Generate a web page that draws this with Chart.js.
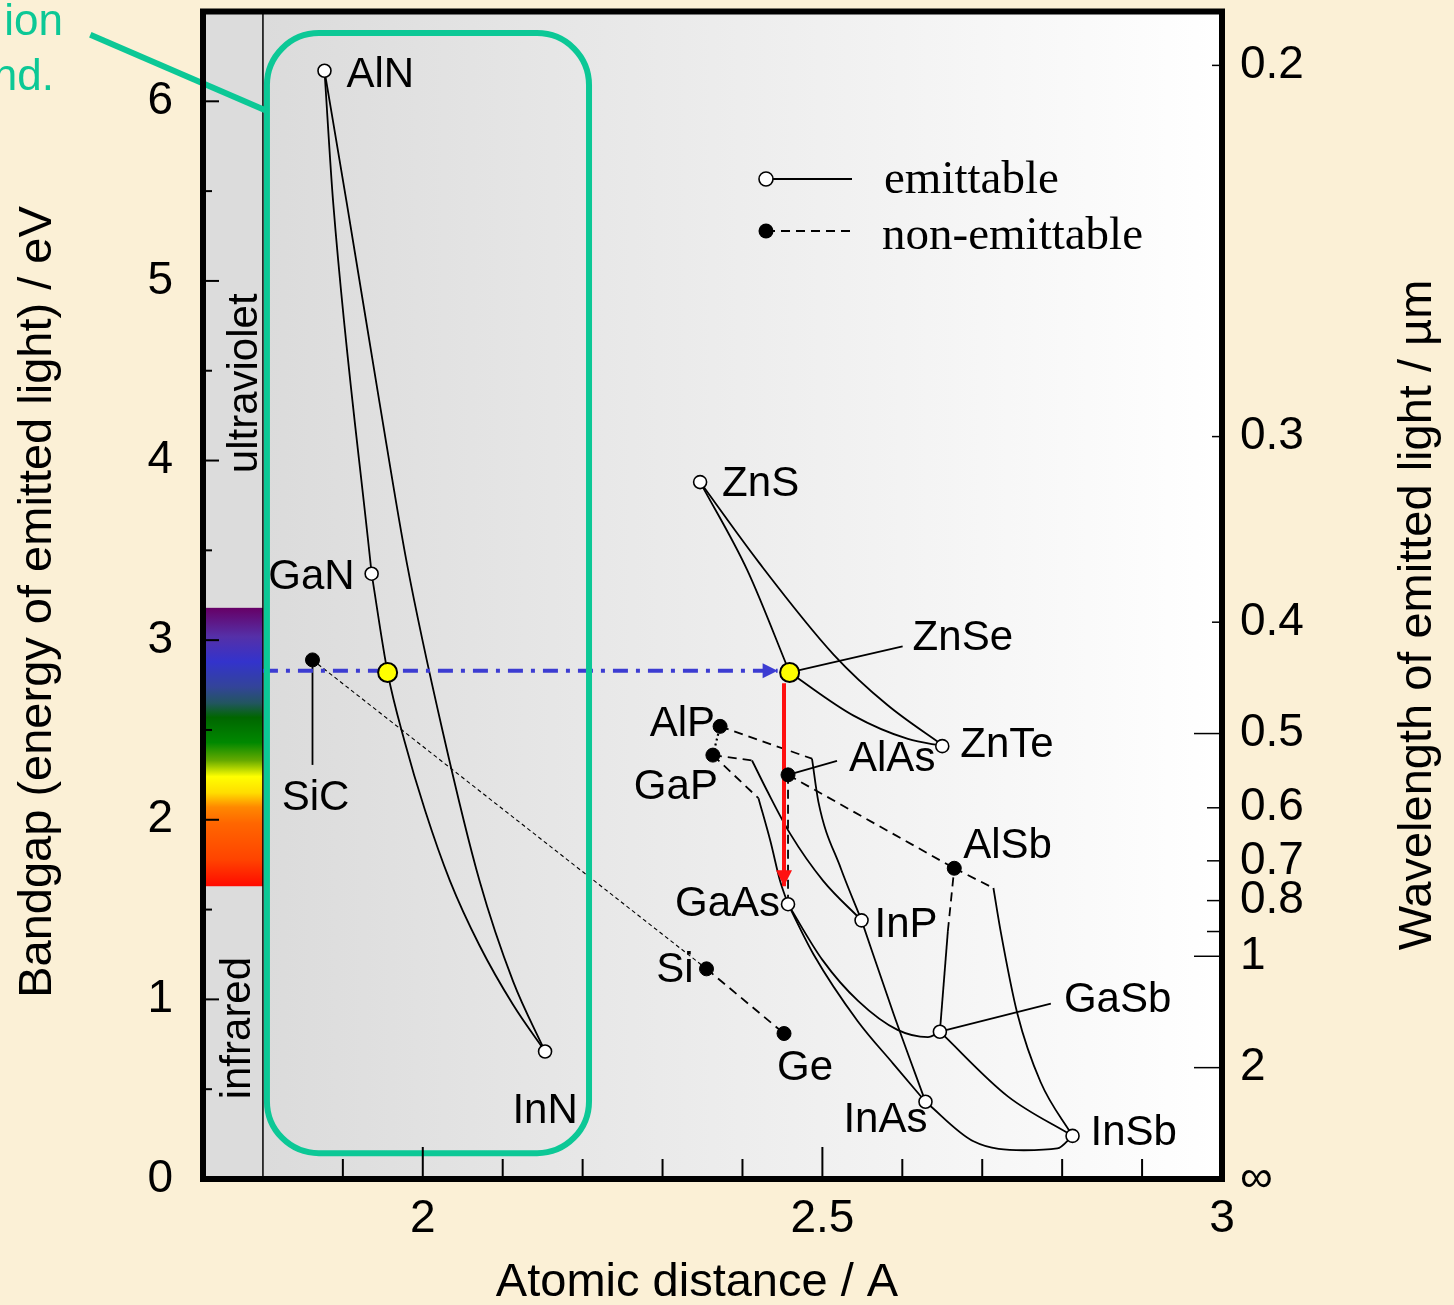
<!DOCTYPE html>
<html>
<head>
<meta charset="utf-8">
<title>Bandgap vs atomic distance</title>
<script src="https://cdn.jsdelivr.net/npm/chart.js@4/dist/chart.umd.min.js"></script>
<style>
  html, body { margin: 0; padding: 0; background: #fbf0d6; }
  canvas { display: block; }
</style>
</head>
<body>
<canvas id="gapChart" width="1454" height="1305"></canvas>
<script>
// compounds that emit light (open circles)
const emitNames = ['AlN', 'GaN', 'InN', 'ZnS', 'ZnTe', 'GaAs', 'InP', 'GaSb', 'InAs', 'InSb'];
const emitDist  = [1.877, 1.936, 2.153, 2.347, 2.650, 2.457, 2.549, 2.647, 2.629, 2.813];
const emitGap   = [6.17, 3.37, 0.71, 3.88, 2.41, 1.53, 1.44, 0.82, 0.43, 0.24];

// non-emitting (filled circles)
const darkNames = ['SiC', 'AlP', 'GaP', 'AlAs', 'AlSb', 'Si', 'Ge'];
const darkDist  = [1.862, 2.372, 2.363, 2.457, 2.665, 2.355, 2.452];
const darkGap   = [2.89, 2.52, 2.36, 2.25, 1.73, 1.17, 0.81];

// blue emitters (yellow circles)
const blueNames = ['GaInN', 'ZnSe'];
const blueDist  = [1.956, 2.459];
const blueGap   = [2.82, 2.82];

// alloy curves [distance, gap]
const cAlNGaN   = [[1.877, 6.17], [1.888, 5.43], [1.936, 3.37]];
const cAlNInN   = [[1.877, 6.17], [1.905, 5.43], [1.946, 4.32], [1.980, 3.43], [2.025, 2.49], [2.071, 1.66], [2.113, 1.10], [2.153, 0.71]];
const cGaNInN   = [[1.936, 3.37], [1.956, 2.82], [1.977, 2.44], [2.003, 2.05], [2.034, 1.66], [2.071, 1.30], [2.113, 0.97], [2.153, 0.71]];
const cZnSZnSe  = [[2.347, 3.88], [2.406, 3.39], [2.459, 2.82]];
const cZnSZnTe  = [[2.347, 3.88], [2.421, 3.43], [2.514, 2.92], [2.581, 2.64], [2.652, 2.41]];
const cZnSeZnTe = [[2.459, 2.82], [2.539, 2.58], [2.607, 2.45], [2.652, 2.41]];
const dGaPAlP   = [[2.363, 2.36], [2.372, 2.52]];
const dAlPInP   = [[2.372, 2.52], [2.487, 2.34]];
const cAlPInP   = [[2.487, 2.34], [2.495, 2.10], [2.523, 1.73], [2.549, 1.44]];
const dGaPInP   = [[2.363, 2.36], [2.412, 2.33]];
const cGaPInP   = [[2.412, 2.33], [2.431, 2.16], [2.460, 1.92], [2.501, 1.66], [2.549, 1.44]];
const dGaPGaAs  = [[2.363, 2.36], [2.420, 2.12]];
const cGaPGaAs  = [[2.420, 2.12], [2.435, 1.88], [2.447, 1.66], [2.457, 1.53]];
const dAlAsGaAs = [[2.457, 2.25], [2.457, 1.53]];
const dAlAsAlSb = [[2.457, 2.25], [2.665, 1.73]];
const dAlSbInSb = [[2.665, 1.73], [2.714, 1.62]];
const cAlSbInSb = [[2.714, 1.62], [2.723, 1.38], [2.744, 0.92], [2.773, 0.54], [2.813, 0.24]];
const dAlSbGaSb = [[2.657, 1.38], [2.665, 1.73]];
const cAlSbGaSb = [[2.647, 0.82], [2.657, 1.38]];
const cGaAsGaSb = [[2.457, 1.53], [2.500, 1.22], [2.545, 0.99], [2.594, 0.83], [2.632, 0.79], [2.647, 0.82]];
const cGaAsInAs = [[2.457, 1.53], [2.489, 1.25], [2.544, 0.88], [2.589, 0.64], [2.629, 0.43]];
const cInPInAs  = [[2.549, 1.44], [2.589, 0.92], [2.629, 0.43]];
const cGaSbInSb = [[2.647, 0.82], [2.732, 0.46], [2.813, 0.24]];
const cInAsInSb = [[2.629, 0.43], [2.689, 0.21], [2.752, 0.16], [2.794, 0.17], [2.813, 0.24]];
const fSiCSi    = [[1.862, 2.89], [2.355, 1.17]];
const dSiGe     = [[2.355, 1.17], [2.452, 0.81]];

// arrows
const blueArrow = [[1.8, 2.83], [2.444, 2.83]];
const redArrow  = [[2.452, 2.76], [2.452, 1.63]];

// axes
const xTickValues = [1.8, 1.9, 2.0, 2.1, 2.2, 2.3, 2.4, 2.5, 2.6, 2.7, 2.8, 2.9, 3.0];
const xTickLabels = ['', '', '2', '', '', '', '', '2.5', '', '', '', '', '3'];
const yTickValues = [0, 0.5, 1, 1.5, 2, 2.5, 3, 3.5, 4, 4.5, 5, 5.5, 6];
const yTickLabels = ['0', '', '1', '', '2', '', '3', '', '4', '', '5', '', '6'];
const waveValues  = [0.2, 0.3, 0.4, 0.5, 0.6, 0.7, 0.8, 0.9, 1, 2, Infinity];
const waveLabels  = ['0.2', '0.3', '0.4', '0.5', '0.6', '0.7', '0.8', '', '1', '2', '\u221e'];
const hc = 1.24; // eV * um

// annotation regions (data space)
const stripEdge = 1.8;
const spectrumTop = 3.18, spectrumBottom = 1.63;
const boxLeft = 1.805, boxRight = 2.208, boxTop = 6.38, boxBottom = 0.144;
const calloutFrom = [1.584, 6.37], calloutTo = [1.803, 5.95];

// ---- styles ----
const SANS = '"Liberation Sans", Arial, sans-serif';
const SERIF = '"Liberation Serif", "Times New Roman", serif';
const GREEN = '#0cc896';
const BLUE = '#3c3cd2';
const RED = '#ff1010';

const spectrumStops = [
  [3.18, '#660066'], [3.02, '#5530a8'], [2.88, '#3333cc'], [2.74, '#334499'],
  [2.65, '#225560'], [2.57, '#006600'], [2.43, '#008800'], [2.33, '#66aa00'],
  [2.24, '#ffff00'], [2.15, '#ffdd00'], [2.07, '#ff8800'], [1.98, '#ff6600'],
  [1.78, '#ff4400'], [1.63, '#ff0a00']
];

const lineStyles = {
  solid:  { borderWidth: 1.8, borderDash: [] },
  dashed: { borderWidth: 1.8, borderDash: [9, 6] },
  dotted: { borderWidth: 2.2, borderDash: [2, 3] },
  fine:   { borderWidth: 1.1, borderDash: [4, 3] }
};

// label offsets in px from the marker: [dx, dy, align]
const labelOffsets = {
  AlN: [22, 5, 'left'], GaN: [-17, 4, 'right'], InN: [0, 60, 'center'], ZnS: [22, 2, 'left'],
  ZnSe: [123, -34, 'left'], ZnTe: [18, -1, 'left'], AlP: [-5, -2, 'right'], GaP: [5, 32, 'right'],
  AlAs: [61, -15, 'left'], AlSb: [9, -22, 'left'], GaAs: [-8, 0, 'right'], InP: [13, 5, 'left'],
  GaSb: [124, -31, 'left'], InAs: [2, 19, 'right'], InSb: [18, -2, 'left'],
  SiC: [3, 139, 'center'], Si: [-13, 2, 'right'], Ge: [21, 35, 'center']
};
const pointerLines = { SiC: [0, 7, 0, 105], ZnSe: [0, 0, 113, -26], AlAs: [0, 0, 49, -14], GaSb: [0, 0, 111, -28] };

const pairs = arr => arr.map(p => ({ x: p[0], y: p[1] }));
const zip = (xs, ys) => xs.map((v, i) => ({ x: v, y: ys[i] }));

const curveList = [
  [cAlNGaN, 'solid'], [cAlNInN, 'solid'], [cGaNInN, 'solid'],
  [cZnSZnSe, 'solid'], [cZnSZnTe, 'solid'], [cZnSeZnTe, 'solid'],
  [dGaPAlP, 'dotted'], [dAlPInP, 'dashed'], [cAlPInP, 'solid'],
  [dGaPInP, 'dashed'], [cGaPInP, 'solid'], [dGaPGaAs, 'dashed'], [cGaPGaAs, 'solid'],
  [dAlAsGaAs, 'dashed'], [dAlAsAlSb, 'dashed'], [dAlSbInSb, 'dashed'], [cAlSbInSb, 'solid'],
  [dAlSbGaSb, 'dashed'], [cAlSbGaSb, 'solid'], [cGaAsGaSb, 'solid'], [cGaAsInAs, 'solid'],
  [cInPInAs, 'solid'], [cGaSbInSb, 'solid'], [cInAsInSb, 'solid'],
  [fSiCSi, 'fine'], [dSiGe, 'dashed']
];

const datasets = [
  { label: 'blue', data: zip(blueDist, blueGap), showLine: false, pointRadius: 9.5,
    pointBackgroundColor: '#ffff00', pointBorderColor: '#000', pointBorderWidth: 2, order: 0 },
  { label: 'emittable', data: zip(emitDist, emitGap), showLine: false, pointRadius: 6.5,
    pointBackgroundColor: '#ffffff', pointBorderColor: '#000', pointBorderWidth: 1.6, order: 0 },
  { label: 'non-emittable', data: zip(darkDist, darkGap), showLine: false, pointRadius: 7,
    pointBackgroundColor: '#000', pointBorderColor: '#000', pointBorderWidth: 1, order: 0 },
  { label: 'arrow-blue', data: pairs(blueArrow), showLine: true, pointRadius: 0, borderColor: BLUE,
    borderWidth: 4, borderDash: [15, 8, 4, 8], tension: 0, order: 1 },
  { label: 'arrow-red', data: pairs(redArrow), showLine: true, pointRadius: 0, borderColor: RED,
    borderWidth: 4, tension: 0, order: 1 }
];
curveList.forEach(([arr, style], i) => {
  datasets.push(Object.assign({
    label: 'curve' + i, data: pairs(arr), showLine: true, pointRadius: 0, borderColor: '#000',
    tension: 0, cubicInterpolationMode: arr.length > 2 ? 'monotone' : 'default', order: 2
  }, lineStyles[style]));
});

function arrowHead(ctx, tipX, tipY, dirX, dirY, len, half, color) {
  ctx.fillStyle = color;
  ctx.beginPath();
  ctx.moveTo(tipX, tipY);
  ctx.lineTo(tipX - dirX * len - dirY * half, tipY - dirY * len + dirX * half);
  ctx.lineTo(tipX - dirX * len + dirY * half, tipY - dirY * len - dirX * half);
  ctx.closePath();
  ctx.fill();
}

// fixed axis boxes so the plot frame lands where the original has it
function fixBox(prop, size) {
  return s => {
    s[prop] = size;
    s.paddingTop = 0; s.paddingBottom = 0; s.paddingLeft = 0; s.paddingRight = 0;
  };
}

const decor = {
  id: 'decor',
  beforeDraw(chart) {
    const { ctx, chartArea: a, scales: { x, y } } = chart;
    ctx.save();
    ctx.fillStyle = '#fbf0d6';
    ctx.fillRect(0, 0, chart.width, chart.height);
    const g = ctx.createLinearGradient(a.left, 0, a.right, 0);
    g.addColorStop(0, '#d9d9d9');
    g.addColorStop(1, '#ffffff');
    ctx.fillStyle = g;
    ctx.fillRect(a.left, a.top, a.right - a.left, a.bottom - a.top);
    const sx = x.getPixelForValue(stripEdge);
    ctx.fillStyle = '#dcdcdc';
    ctx.fillRect(a.left, a.top, sx - a.left, a.bottom - a.top);
    const yt = y.getPixelForValue(spectrumTop), yb = y.getPixelForValue(spectrumBottom);
    const sg = ctx.createLinearGradient(0, yt, 0, yb);
    spectrumStops.forEach(([e, c]) => sg.addColorStop((spectrumTop - e) / (spectrumTop - spectrumBottom), c));
    ctx.fillStyle = sg;
    ctx.fillRect(a.left, yt, sx - a.left, yb - yt);

    // green callout text cut at the page edge
    ctx.fillStyle = GREEN;
    ctx.font = '44px ' + SANS;
    ctx.textAlign = 'right';
    ctx.textBaseline = 'alphabetic';
    ctx.fillText('ion', 63, 35);
    ctx.fillText('nd.', 54, 90);
    ctx.restore();
  },
  beforeDatasetsDraw(chart) {
    const { ctx, chartArea: a, scales: { x, y } } = chart;
    ctx.save();
    const sx = x.getPixelForValue(stripEdge);
    ctx.strokeStyle = '#000';
    ctx.lineWidth = 1.5;
    ctx.beginPath();
    ctx.moveTo(sx, a.top);
    ctx.lineTo(sx, a.bottom);
    ctx.stroke();

    // region names in the strip
    ctx.fillStyle = '#000';
    ctx.font = '42px ' + SANS;
    ctx.textAlign = 'center';
    ctx.textBaseline = 'alphabetic';
    [['ultraviolet', 4.43, -6], ['infrared', 0.84, -13]].forEach(([t, e, off]) => {
      ctx.save();
      ctx.translate(sx + off, y.getPixelForValue(e));
      ctx.rotate(-Math.PI / 2);
      ctx.fillText(t, 0, 0);
      ctx.restore();
    });

    // label pointer lines
    ctx.lineWidth = 1.8;
    const all = [[emitNames, emitDist, emitGap], [darkNames, darkDist, darkGap], [blueNames, blueDist, blueGap]];
    all.forEach(([names, xs, ys]) => names.forEach((n, i) => {
      const p = pointerLines[n];
      if (!p) return;
      const px = x.getPixelForValue(xs[i]), py = y.getPixelForValue(ys[i]);
      ctx.beginPath();
      ctx.moveTo(px + p[0], py + p[1]);
      ctx.lineTo(px + p[2], py + p[3]);
      ctx.stroke();
    }));
    ctx.restore();
  },
  afterDatasetsDraw(chart) {
    const { ctx, chartArea: a, scales: { x, y } } = chart;
    const X = v => x.getPixelForValue(v), Y = v => y.getPixelForValue(v);
    ctx.save();

    // green box + callout line
    const l = X(boxLeft), r = X(boxRight), t = Y(boxTop), b = Y(boxBottom), rad = 52;
    ctx.strokeStyle = GREEN;
    ctx.lineWidth = 6;
    ctx.beginPath();
    ctx.moveTo(l + rad, t);
    ctx.arcTo(r, t, r, b, rad);
    ctx.arcTo(r, b, l, b, rad);
    ctx.arcTo(l, b, l, t, rad);
    ctx.arcTo(l, t, r, t, rad);
    ctx.closePath();
    ctx.stroke();
    ctx.beginPath();
    ctx.moveTo(X(calloutFrom[0]), Y(calloutFrom[1]));
    ctx.lineTo(X(calloutTo[0]), Y(calloutTo[1]));
    ctx.stroke();

    // arrow heads
    const bEnd = blueArrow[blueArrow.length - 1];
    arrowHead(ctx, X(bEnd[0]), Y(bEnd[1]), 1, 0, 15, 7.5, BLUE);
    const rEnd = redArrow[redArrow.length - 1];
    arrowHead(ctx, X(rEnd[0]), Y(rEnd[1]), 0, 1, 16, 8, RED);

    // compound labels
    ctx.fillStyle = '#000';
    ctx.font = '42px ' + SANS;
    ctx.textBaseline = 'middle';
    const all = [[emitNames, emitDist, emitGap], [darkNames, darkDist, darkGap], [blueNames, blueDist, blueGap]];
    all.forEach(([names, xs, ys]) => names.forEach((n, i) => {
      const o = labelOffsets[n];
      if (!o) return;
      ctx.textAlign = o[2];
      ctx.fillText(n, X(xs[i]) + o[0], Y(ys[i]) + o[1]);
    }));

    // legend
    const lx = a.left + 563, ly1 = a.top + 167.5, ly2 = a.top + 219.5;
    ctx.strokeStyle = '#000';
    ctx.lineWidth = 1.8;
    ctx.setLineDash([]);
    ctx.beginPath(); ctx.moveTo(lx, ly1); ctx.lineTo(lx + 86, ly1); ctx.stroke();
    ctx.setLineDash([9, 6]);
    ctx.beginPath(); ctx.moveTo(lx, ly2); ctx.lineTo(lx + 86, ly2); ctx.stroke();
    ctx.setLineDash([]);
    ctx.beginPath(); ctx.arc(lx, ly1, 7, 0, Math.PI * 2);
    ctx.fillStyle = '#fff'; ctx.fill(); ctx.lineWidth = 1.6; ctx.stroke();
    ctx.beginPath(); ctx.arc(lx, ly2, 7.5, 0, Math.PI * 2);
    ctx.fillStyle = '#000'; ctx.fill();
    ctx.font = '47px ' + SERIF;
    ctx.textAlign = 'left';
    ctx.textBaseline = 'alphabetic';
    ctx.fillText('emittable', lx + 118, ly1 + 14);
    ctx.fillText('non-emittable', lx + 116, ly2 + 18);

    // tick marks (inside)
    ctx.strokeStyle = '#000';
    ctx.lineWidth = 2;
    yTickValues.forEach(v => {
      const py = Y(v), len = Number.isInteger(v) ? 16 : 9;
      ctx.beginPath(); ctx.moveTo(a.left, py); ctx.lineTo(a.left + len, py); ctx.stroke();
    });
    xTickValues.forEach((v, i) => {
      if (v === stripEdge || v === 3.0) return;
      const px = X(v), len = xTickLabels[i] ? 32 : 20;
      ctx.beginPath(); ctx.moveTo(px, a.bottom); ctx.lineTo(px, a.bottom - len); ctx.stroke();
    });
    ctx.lineWidth = 1.5;
    waveValues.forEach(w => {
      if (!isFinite(w)) return;
      const py = Y(hc / w);
      const len = (w === 0.5 || w === 1 || w === 2) ? 28 : (w > 0.5 ? 15 : 10);
      ctx.beginPath(); ctx.moveTo(a.right, py); ctx.lineTo(a.right - len, py); ctx.stroke();
    });

    // frame
    ctx.lineWidth = 6;
    ctx.strokeRect(a.left, a.top, a.right - a.left, a.bottom - a.top);
    ctx.restore();
  },
  afterDraw(chart) {
    const { ctx } = chart;
    ctx.save();
    ctx.fillStyle = '#000';
    ctx.font = '47px ' + SANS;
    ctx.textAlign = 'center';
    ctx.textBaseline = 'middle';
    ctx.fillText('Atomic distance / A', 697, 1283);
    [['Bandgap (energy of emitted light) / eV', 38, 602], ['Wavelength of emitted light / \u00b5m', 1418, 615]]
      .forEach(([t, cx, cy]) => {
        ctx.save();
        ctx.translate(cx, cy);
        ctx.rotate(-Math.PI / 2);
        ctx.fillText(t, 0, 0);
        ctx.restore();
      });
    ctx.restore();
  }
};

const tickFont = { family: SANS, size: 46 };

new Chart(document.getElementById('gapChart'), {
  type: 'scatter',
  data: { datasets: datasets },
  options: {
    responsive: false,
    animation: false,
    events: [],
    layout: { padding: { top: 8.5, left: 0, right: 0, bottom: 0 } },
    plugins: { legend: { display: false }, tooltip: { enabled: false } },
    scales: {
      x: {
        type: 'linear', position: 'bottom', min: 1.725, max: 3.0,
        grid: { display: false, drawTicks: false }, border: { display: false },
        afterBuildTicks: s => { s.ticks = xTickValues.map(v => ({ value: v })); },
        afterFit: fixBox('height', 126),
        ticks: { color: '#000', font: tickFont, padding: 13, autoSkip: false, maxRotation: 0,
                 callback: (v, i) => xTickLabels[i] }
      },
      y: {
        type: 'linear', position: 'left', min: 0, max: 6.5,
        grid: { display: false, drawTicks: false }, border: { display: false },
        afterBuildTicks: s => { s.ticks = yTickValues.map(v => ({ value: v })); },
        afterFit: fixBox('width', 203),
        ticks: { color: '#000', font: tickFont, padding: 30, autoSkip: false,
                 callback: (v, i) => yTickLabels[i] }
      },
      y2: {
        type: 'linear', position: 'right', min: 0, max: 6.5,
        grid: { display: false, drawTicks: false }, border: { display: false },
        afterBuildTicks: s => { s.ticks = waveValues.map(w => ({ value: hc / w })); },
        afterFit: fixBox('width', 232),
        ticks: { color: '#000', font: tickFont, padding: 18, autoSkip: false,
                 callback: (v, i) => waveLabels[i] }
      }
    }
  },
  plugins: [decor]
});
</script>
</body>
</html>
